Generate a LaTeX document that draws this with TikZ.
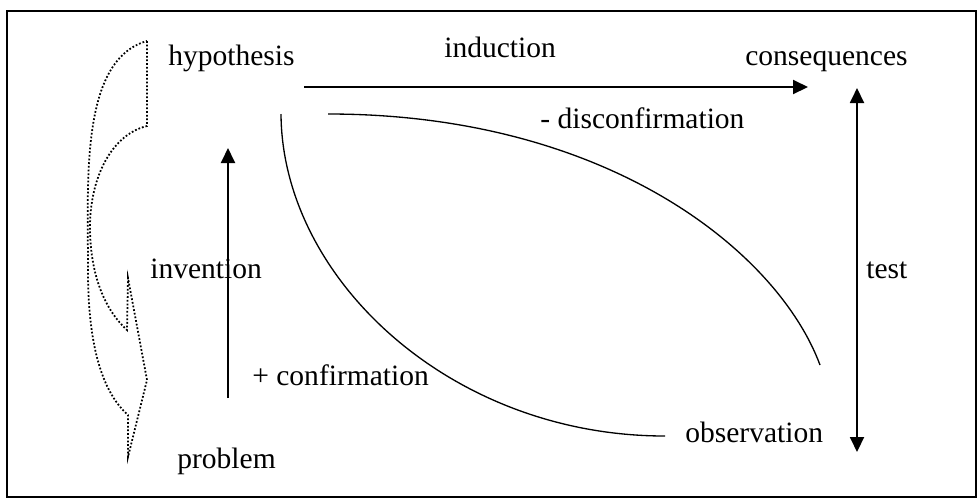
\documentclass[tikz,border=0pt]{standalone}
\usepackage{fontspec}
\setmainfont{Liberation Serif}
\usetikzlibrary{arrows.meta}
\tikzset{
	lbl/.style={inner sep=0pt, anchor=base west, font=\fontsize{16.8}{20}\selectfont},
	arr/.style={line width=1.1pt, -{Triangle[length=0.3cm,width=0.28cm]}},
	dblarr/.style={line width=1.1pt, {Triangle[length=0.3cm,width=0.28cm]}-{Triangle[length=0.3cm,width=0.28cm]}},
	link/.style={line width=0.75pt},
	dotline/.style={line width=1pt, dash pattern=on 1pt off 1.1pt}
}
\begin{document}
\begin{tikzpicture}[x=0.02cm,y=-0.02cm]
	\useasboundingbox (0,0) rectangle (979,498);
	\draw[line width=1.1pt] (7,11) rectangle (976,497);
	\node[lbl] (hyp) at (168,65) {hypothesis};
	\node[lbl] (ind) at (444,57) {induction};
	\node[lbl] (cons) at (745,65) {consequences};
	\node[lbl] (dis) at (540,128) {- disconfirmation};
	\node[lbl] (inv) at (150,278) {invention};
	\node[lbl] (tst) at (866,278) {test};
	\node[lbl] (conf) at (252,385) {+ confirmation};
	\node[lbl] (obs) at (685,442) {observation};
	\node[lbl] (prob) at (177,468) {problem};
	\coordinate (indA) at (304,87);
	\coordinate (indB) at (808,87);
	\coordinate (invA) at (228,398);
	\coordinate (invB) at (228,148);
	\coordinate (tstA) at (857,88);
	\coordinate (tstB) at (857,452);
	\coordinate (confA) at (281,114);
	\coordinate (confB) at (665,436);
	\coordinate (disA) at (328,114);
	\coordinate (disB) at (820,365);
	\draw[arr] (indA) -- (indB);
	\draw[arr] (invA) -- (invB);
	\draw[dblarr] (tstA) -- (tstB);
	\draw[link] (confA) .. controls (282,278) and (450,436) .. (confB);
	\draw[link] (disA) .. controls (608,114) and (778,252) .. (disB);
	\draw[dotline] (147,41) -- (147,126) .. controls (110,135) and (90,180) .. (90,227)
		.. controls (90,275) and (105,310) .. (127,330) -- (128,278) -- (147,380) -- (128,457) -- (128,415)
		.. controls (100,390) and (88,340) .. (88,270) .. controls (88,180) and (80,60) .. cycle;
\end{tikzpicture}
\end{document}
